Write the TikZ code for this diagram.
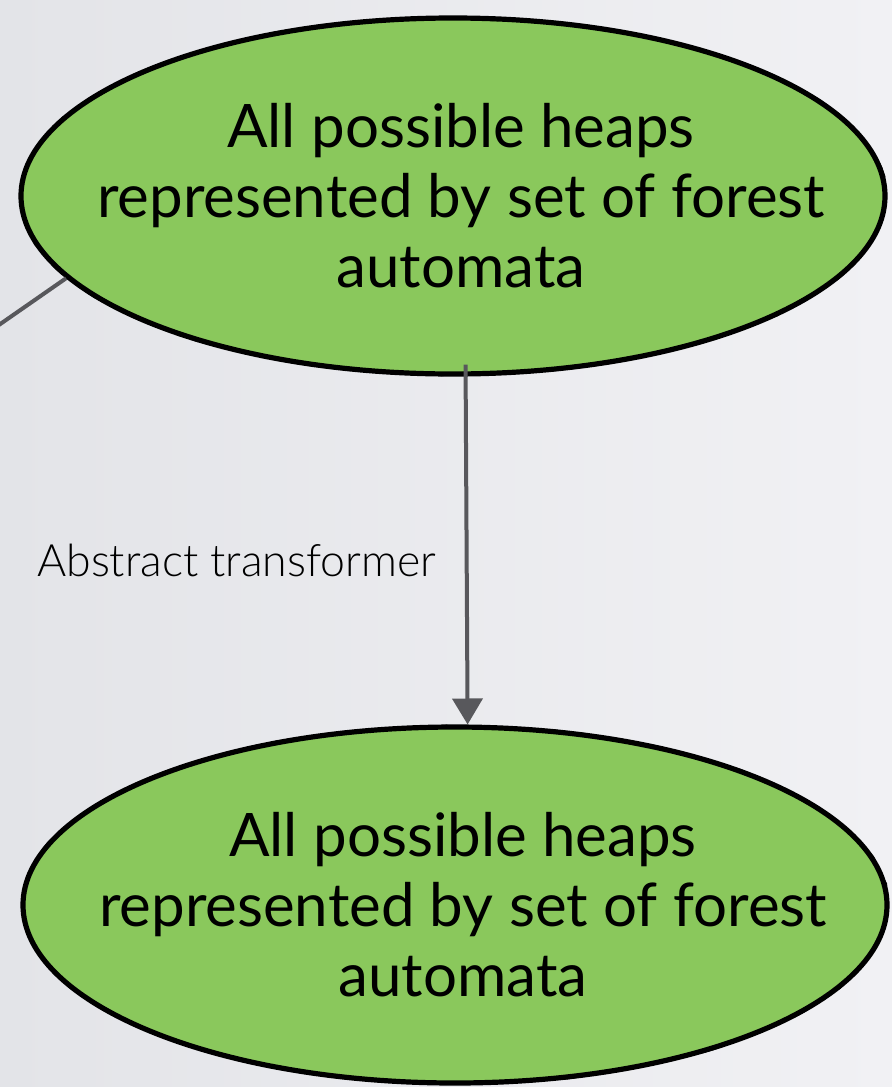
\documentclass[tikz,border=0pt]{standalone}
\usepackage{fontspec}
\setmainfont{Lato}
\newfontfamily\thinfont{Lato Light}
\usetikzlibrary{shapes.geometric,arrows.meta,decorations.pathmorphing}
\definecolor{leaf}{RGB}{138,200,92}
\definecolor{wire}{RGB}{88,88,92}
\definecolor{bgdark}{RGB}{227,228,232}
\definecolor{bglight}{RGB}{241,241,244}

\begin{document}
\begin{tikzpicture}[x=0.5pt,y=-0.5pt]
\tikzset{state/.style = {shape=ellipse,fill=leaf,draw=black,line width=2.6pt,inner sep=0pt,
  minimum width=432pt,minimum height=178pt,
  postaction={draw,decorate,decoration={random steps,segment length=5pt,amplitude=0.9pt},line width=0.6pt}}}
\tikzset{statetext/.style = {align=center,xshift=4pt,font=\fontsize{30}{35}\selectfont}}
\tikzset{edge/.style = {draw=wire,line width=2pt}}
\useasboundingbox (0,0) rectangle (892,1087);
\shade[left color=bgdark,right color=bglight] (0,0) rectangle (892,1087);
\node[state] (top) at (453,196) {};
\node[state] (bottom) at (455,905) {};
\node[statetext] (topText) at (top) {All possible heaps\\represented by set of forest\\automata};
\node[statetext] (bottomText) at (bottom) {All possible heaps\\represented by set of forest\\automata};
\coordinate (offLeft) at (-40,352);
\draw[edge] (top.192) -- (offLeft);
\draw[edge,shorten <=-6pt,-{Triangle[width=15pt,length=13pt]}] (top.-86.6) --
  node[pos=0.53,left=11pt,font=\thinfont\fontsize{22.3}{26}\selectfont] (absLabel) {Abstract transformer} (bottom.86.6);
\end{tikzpicture}
\end{document}
